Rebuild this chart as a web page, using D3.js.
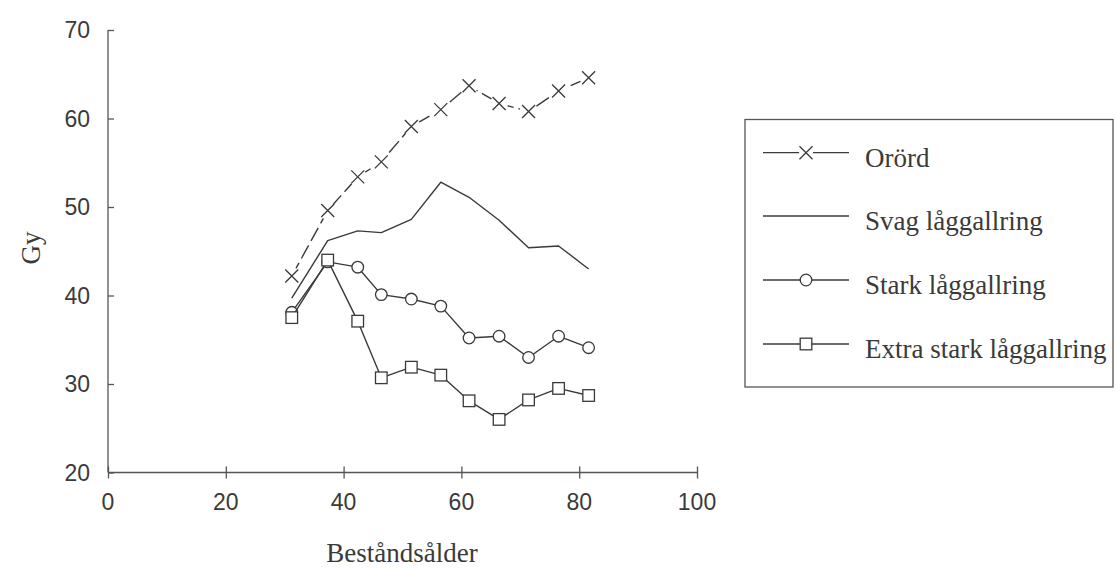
<!DOCTYPE html>
<html>
<head>
<meta charset="utf-8">
<script src="https://cdn.jsdelivr.net/npm/d3@7"></script>
<style>
  html, body { margin: 0; padding: 0; background: #fff; }
  svg { display: block; }
</style>
</head>
<body>
<svg id="chart" width="1116" height="568"></svg>
<script>
// ---- data ----
const ages = [31.2, 37.3, 42.4, 46.4, 51.5, 56.5, 61.3, 66.4, 71.4, 76.5, 81.6];
const orord = [42.2, 49.6, 53.4, 55.1, 59.1, 61.0, 63.7, 61.7, 60.8, 63.1, 64.6];
const svag  = [39.7, 46.2, 47.3, 47.1, 48.6, 52.8, 51.1, 48.5, 45.4, 45.6, 43.0];
const stark = [38.1, 43.8, 43.2, 40.1, 39.6, 38.8, 35.2, 35.4, 33.0, 35.4, 34.1];
const extra = [37.5, 44.0, 37.1, 30.7, 31.9, 31.0, 28.1, 26.0, 28.2, 29.5, 28.7];
const seriesNames = ["Orörd", "Svag låggallring", "Stark låggallring", "Extra stark låggallring"];
const markerTypes = ["cross", "none", "circle", "square"];
const dashes = ["15,5", null, null, null];
const xTicks = [0, 20, 40, 60, 80, 100];
const yTicks = [20, 30, 40, 50, 60, 70];
const xTitle = "Beståndsålder";
const yTitle = "Gy";

const ink = "#3a3a3a";
const svg = d3.select("#chart");

const x = d3.scaleLinear().domain([0, 100]).range([108, 697]);
const y = d3.scaleLinear().domain([20, 70]).range([472.5, 30]);

// ---- axes ----
const yAxis = d3.axisRight(y).tickValues(yTicks).tickSize(6).tickFormat("");
const gy = svg.append("g").attr("transform", `translate(${x(0)},0)`).call(yAxis);
gy.select(".domain").attr("d", `M0,${y(70)}V${y(20)}`);
gy.selectAll("path,line").attr("stroke", "#555").attr("stroke-width", 1.3);

svg.append("g").selectAll("text").data(yTicks).join("text")
  .attr("x", 90).attr("y", d => y(d)).attr("dy", "0.36em")
  .attr("text-anchor", "end")
  .attr("font-family", "Liberation Sans, Arial, sans-serif")
  .attr("font-size", 23).attr("fill", ink)
  .text(d => d);

const xAxis = d3.axisBottom(x).tickValues(xTicks).tickSize(6).tickFormat("");
const gx = svg.append("g").attr("transform", `translate(0,${y(20)})`).call(xAxis);
gx.select(".domain").attr("d", `M${x(0)},0H${x(100)}`);
gx.selectAll(".tick line").attr("y1", -6).attr("y2", 6);
gx.selectAll("path,line").attr("stroke", "#555").attr("stroke-width", 1.3);

svg.append("g").selectAll("text").data(xTicks).join("text")
  .attr("x", d => x(d)).attr("y", 510)
  .attr("text-anchor", "middle")
  .attr("font-family", "Liberation Sans, Arial, sans-serif")
  .attr("font-size", 23).attr("fill", ink)
  .text(d => d);

svg.append("text")
  .attr("x", 402).attr("y", 562)
  .attr("text-anchor", "middle")
  .attr("font-family", "Liberation Serif, Times New Roman, serif")
  .attr("font-size", 27).attr("fill", ink)
  .text(xTitle);

svg.append("text")
  .attr("transform", "translate(40,248) rotate(-90)")
  .attr("text-anchor", "middle")
  .attr("font-family", "Liberation Serif, Times New Roman, serif")
  .attr("font-size", 27).attr("fill", ink)
  .text(yTitle);

// ---- marker drawing ----
function drawMarker(g, type, cx, cy, halo) {
  if (type === "cross") {
    if (halo) g.append("circle").attr("cx", cx).attr("cy", cy).attr("r", halo).attr("fill", "#fff");
    const s = 6.5;
    g.append("path")
      .attr("d", `M${cx - s},${cy - s}L${cx + s},${cy + s}M${cx - s},${cy + s}L${cx + s},${cy - s}`)
      .attr("stroke", ink).attr("stroke-width", 1.3).attr("fill", "none");
  } else if (type === "circle") {
    g.append("circle").attr("cx", cx).attr("cy", cy).attr("r", 5.8)
      .attr("fill", "#fff").attr("stroke", ink).attr("stroke-width", 1.3);
  } else if (type === "square") {
    const s = 5.8;
    g.append("rect").attr("x", cx - s).attr("y", cy - s).attr("width", 2 * s).attr("height", 2 * s)
      .attr("fill", "#fff").attr("stroke", ink).attr("stroke-width", 1.3);
  }
}

// ---- series ----
const allSeries = [orord, svag, stark, extra];
const line = d3.line().x(d => x(d[0])).y(d => y(d[1]));

allSeries.forEach((vals, i) => {
  const pts = ages.map((a, j) => [a, vals[j]]);
  const g = svg.append("g");
  const p = g.append("path").attr("d", line(pts))
    .attr("fill", "none").attr("stroke", ink).attr("stroke-width", 1.4)
    .attr("stroke-linejoin", "round");
  if (dashes[i]) p.attr("stroke-dasharray", dashes[i]);
  pts.forEach(pt => drawMarker(g, markerTypes[i], x(pt[0]), y(pt[1]), 9));
});

// ---- legend ----
const lg = svg.append("g");
lg.append("rect").attr("x", 745).attr("y", 119.5).attr("width", 368).attr("height", 267.5)
  .attr("fill", "#fff").attr("stroke", "#555").attr("stroke-width", 1.3);
const rowY = [152.7, 216, 280, 344];
seriesNames.forEach((name, i) => {
  const yy = rowY[i];
  lg.append("line").attr("x1", 763).attr("x2", 849).attr("y1", yy).attr("y2", yy)
    .attr("stroke", ink).attr("stroke-width", 1.3);
  drawMarker(lg, markerTypes[i], 806, yy, 7);
  lg.append("text").attr("x", 865).attr("y", yy + 14)
    .attr("font-family", "Liberation Serif, Times New Roman, serif")
    .attr("font-size", 27).attr("fill", ink)
    .text(name);
});
</script>
</body>
</html>
